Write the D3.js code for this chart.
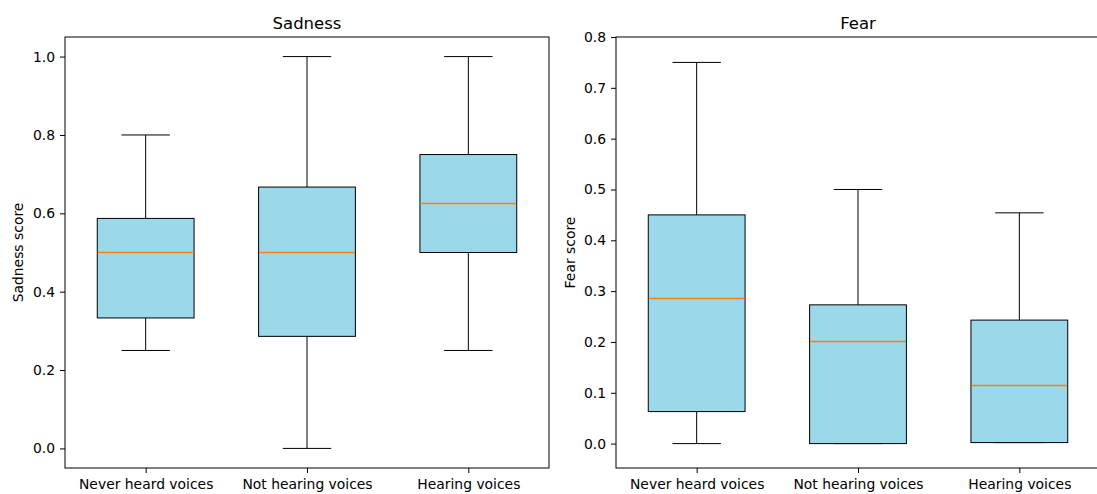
<!DOCTYPE html>
<html>
<head>
<meta charset="utf-8">
<script src="https://cdn.jsdelivr.net/npm/d3@7"></script>
<style>
  body { margin: 0; background: #fff; }
  text { font-family: "DejaVu Sans", sans-serif; fill: #000; }
</style>
</head>
<body>
<svg id="chart"></svg>
<script>
// Data
const groups = ["Never heard voices", "Not hearing voices", "Hearing voices"];

// [whisker low, Q1, median, Q3, whisker high]
const sadnessStats = [
  [0.25, 0.333, 0.5, 0.587, 0.8],
  [0.0, 0.286, 0.5, 0.667, 1.0],
  [0.25, 0.5, 0.625, 0.75, 1.0]
];
const fearStats = [
  [0.0, 0.063, 0.286, 0.45, 0.75],
  [0.0, 0.0, 0.2, 0.273, 0.5],
  [0.002, 0.002, 0.115, 0.243, 0.454]
];

const sadnessTicks = [0.0, 0.2, 0.4, 0.6, 0.8, 1.0];
const fearTicks = [0.0, 0.1, 0.2, 0.3, 0.4, 0.5, 0.6, 0.7, 0.8];

const w = 1097;
const h = 494;
const svg = d3.select("#chart").attr("width", w).attr("height", h);

const panels = [
  { title: "Sadness", ylabel: "Sadness score", stats: sadnessStats, ticks: sadnessTicks,
    domain: [-0.05, 1.05], left: 65, ylabelX: 23 },
  { title: "Fear", ylabel: "Fear score", stats: fearStats, ticks: fearTicks,
    domain: [-0.048, 0.8], left: 616, ylabelX: 575 }
];

const axTop = 37, axBottom = 468, axW = 484;
const boxW = 0.6;

panels.forEach(p => {
  const g = svg.append("g");
  const x = d3.scaleLinear().domain([0.5, 3.5]).range([p.left, p.left + axW]);
  const y = d3.scaleLinear().domain(p.domain).range([axBottom, axTop]);

  // boxes
  p.stats.forEach((s, i) => {
    const cx = x(i + 1);
    const bx0 = x(i + 1 - boxW / 2), bx1 = x(i + 1 + boxW / 2);
    const cx0 = x(i + 1 - boxW / 4), cx1 = x(i + 1 + boxW / 4);
    const bg = g.append("g").attr("stroke", "#000").attr("stroke-width", 1);
    bg.append("line").attr("x1", cx).attr("x2", cx).attr("y1", y(s[0])).attr("y2", y(s[1]));
    bg.append("line").attr("x1", cx).attr("x2", cx).attr("y1", y(s[3])).attr("y2", y(s[4]));
    bg.append("line").attr("x1", cx0).attr("x2", cx1).attr("y1", y(s[0])).attr("y2", y(s[0]));
    bg.append("line").attr("x1", cx0).attr("x2", cx1).attr("y1", y(s[4])).attr("y2", y(s[4]));
    bg.append("rect")
      .attr("x", bx0).attr("width", bx1 - bx0)
      .attr("y", y(s[3])).attr("height", y(s[1]) - y(s[3]))
      .attr("fill", "#9bd8ea");
    const my = Math.round(y(s[2]) - 0.5) + 0.5;
    bg.append("line").attr("x1", bx0 + 0.5).attr("x2", bx1 - 0.5)
      .attr("y1", my).attr("y2", my)
      .attr("stroke", "#ff7f0e").attr("stroke-width", 1.3);
  });

  // frame
  g.append("rect")
    .attr("x", p.left).attr("y", axTop)
    .attr("width", axW).attr("height", axBottom - axTop)
    .attr("fill", "none").attr("stroke", "#000").attr("stroke-width", 1);

  // axes
  const yAxis = d3.axisLeft(y).tickValues(p.ticks).tickFormat(d3.format(".1f"))
    .tickSize(5).tickPadding(5);
  const ya = g.append("g").attr("transform", `translate(${p.left},0)`).call(yAxis);
  const xAxis = d3.axisBottom(x).tickValues([1, 2, 3]).tickFormat((d) => groups[d - 1])
    .tickSize(5).tickPadding(6);
  const xa = g.append("g").attr("transform", `translate(0,${axBottom})`).call(xAxis);
  [ya, xa].forEach(a => {
    a.select(".domain").remove();
    a.selectAll("text").style("font-size", "13.9px").style("font-family", "DejaVu Sans");
    a.selectAll("line").attr("stroke", "#000");
  });

  // labels
  g.append("text")
    .attr("x", p.left + axW / 2).attr("y", 29)
    .attr("text-anchor", "middle")
    .style("font-size", "16.5px")
    .text(p.title);
  g.append("text")
    .attr("transform", `translate(${p.ylabelX},${(axTop + axBottom) / 2}) rotate(-90)`)
    .attr("text-anchor", "middle")
    .style("font-size", "13.9px")
    .text(p.ylabel);
});
</script>
</body>
</html>
